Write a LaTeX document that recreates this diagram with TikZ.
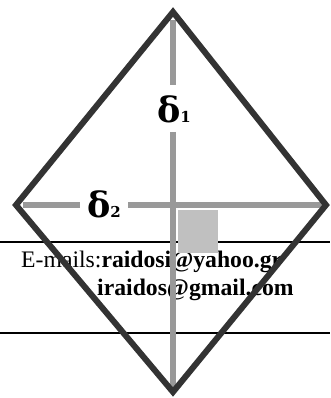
\documentclass[tikz,border=0pt]{standalone}
\usepackage{fontspec}
\setmainfont{Liberation Serif}
\newfontfamily\deltafont{DejaVu Serif}
\definecolor{rhombdark}{HTML}{333333}
\definecolor{axisgray}{HTML}{999999}
\definecolor{cornergray}{HTML}{C0C0C0}
\newcommand{\dsub}[1]{{\fontsize{15}{18}\selectfont #1}}

\begin{document}
\begin{tikzpicture}[x=1pt, y=-1pt,
    rule/.style={draw=black, line width=1.6pt},
    axis/.style={draw=axisgray, line width=6.5pt},
    rhomb/.style={draw=rhombdark, line width=6pt, line join=miter},
    mail/.style={font=\fontsize{23.7}{28}\selectfont, inner sep=0pt, anchor=base west},
    dlbl/.style={font=\deltafont\fontsize{35}{40}\selectfont\bfseries, inner sep=0pt, anchor=base},
  ]
  \useasboundingbox (0,0) rectangle (330,398);

  % ---- page rules and e-mail lines
  \draw[rule] (0,242) -- (330,242);
  \draw[rule] (0,333) -- (330,333);
  \node[mail] (mailA) at (21,267) {E-mails:\textbf{raidosi@yahoo.gr}};
  \node[mail] (mailB) at (97,295) {\textbf{iraidos@gmail.com}};

  % ---- diamond corners
  \coordinate (top) at (173,12);
  \coordinate (bot) at (173,392);
  \coordinate (lft) at (16,205);
  \coordinate (rgt) at (326,205);

  % ---- labels on the axes
  \node[dlbl] (d1) at (174,123) {δ\dsub{1}};
  \node[dlbl] (d2) at (104,217) {δ\dsub{2}};

  % ---- axes, broken at the labels
  \draw[axis] (173,20) -- (173,85);
  \draw[axis] (173,132) -- (173,390);
  \draw[axis] (23,205) -- (80,205);
  \draw[axis] (128,205) -- (323,205);

  % ---- corner square
  \fill[cornergray] (177.5,209.5) rectangle (218,253);

  % ---- diamond
  \draw[rhomb] (top) -- (rgt) -- (bot) -- (lft) -- cycle;
\end{tikzpicture}
\end{document}
